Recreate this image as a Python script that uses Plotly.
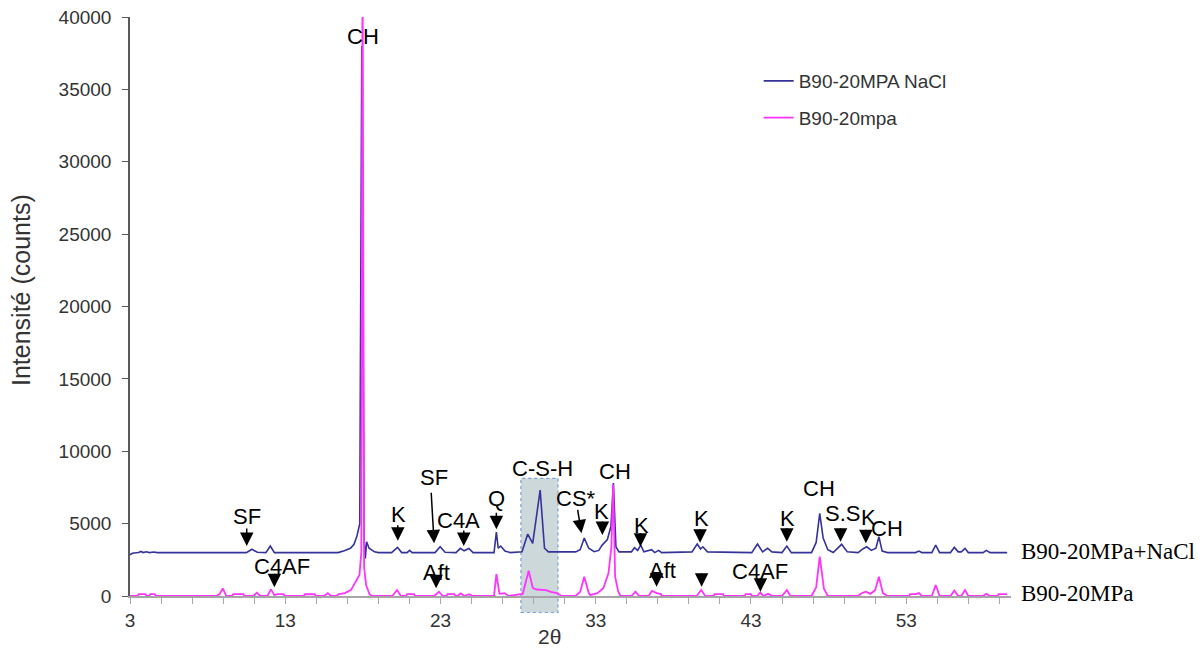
import plotly.graph_objects as go

# B90-20MPa + NaCl (offset pattern, base ~3000 counts)
two_theta_nacl = [
    3.00, 3.15, 3.55, 3.70, 3.85, 4.05, 4.25, 4.55, 4.75,
    10.50, 10.85, 11.20, 11.75, 12.04, 12.30,
    16.40, 16.80, 17.20, 17.43, 17.62, 17.80, 17.93, 18.08, 18.16, 18.24, 18.40, 18.75, 19.00,
    19.85, 20.23, 20.50, 20.85, 21.01, 21.18,
    22.65, 22.98, 23.30,
    24.00, 24.28, 24.52, 24.83, 25.10,
    26.45, 26.60, 26.72, 26.88, 27.15, 27.50,
    28.25, 28.62, 28.94, 29.42, 29.70, 29.95,
    31.70, 32.00, 32.26, 32.55, 32.90, 33.20, 33.40, 33.75, 33.98, 34.14, 34.30, 34.50,
    35.30, 35.50, 35.70, 35.90, 36.10, 36.60, 36.80, 37.05, 37.25,
    39.20, 39.54, 39.75, 39.90, 40.20,
    43.05, 43.42, 43.75, 44.07, 44.35,
    45.00, 45.31, 45.60,
    46.90, 47.20, 47.43, 47.65, 47.95, 48.30, 48.84, 49.20,
    49.90, 50.20, 50.46, 50.75, 51.05, 51.24, 51.45, 51.80,
    53.60, 53.82, 54.00, 54.65, 54.90, 55.15, 55.85, 56.10, 56.35, 56.55, 56.79, 57.00, 57.95, 58.16, 58.40, 59.50,
]
counts_nacl = [
    2850, 2950, 3000, 3080, 3000, 3060, 3000, 3040, 3000,
    3000, 3230, 3020, 3000, 3450, 3000,
    3000, 3130, 3300, 3570, 4150, 5000, 38000, 3900, 2600, 3750, 3300, 3050, 3000,
    3000, 3360, 3000, 3000, 3150, 3000,
    3000, 3400, 3020,
    3000, 3290, 3120, 3280, 3000,
    3000, 4420, 3300, 3450, 3100, 3000,
    3050, 4280, 3640, 7320, 3300, 3050,
    3050, 3200, 4000, 3300, 3060, 3150, 3500, 3900, 4800, 7800, 3400, 3050,
    3050, 3340, 3150, 3520, 3050, 3200, 3000, 3150, 3000,
    3050, 3590, 3250, 3400, 3050,
    3000, 3590, 3050, 3300, 3050,
    3000, 3450, 3000,
    3000, 3700, 5710, 4000, 3200, 3000, 3570, 3050,
    3000, 3250, 3400, 3150, 3300, 4100, 3100, 3000,
    3000, 3100, 3000, 3000, 3520, 3000, 3000, 3360, 3050, 3050, 3290, 3000, 3000, 3150, 3000, 3000,
]

# B90-20MPa (reference pattern, base ~0 counts)
two_theta_ref = [
    3.00, 3.50, 3.55, 4.00, 4.05, 4.25, 4.30, 4.60, 4.65,
    8.60, 8.78, 8.98, 9.20, 9.60, 9.65, 10.30, 10.35,
    10.95, 11.17, 11.40, 11.85, 12.08, 12.30, 12.50, 12.90, 12.95,
    14.20, 14.25, 14.90, 14.95, 15.50, 15.74, 15.95,
    16.30, 16.45, 16.85, 17.24, 17.56, 17.78, 17.90, 17.98, 18.08, 18.21, 18.43, 18.60,
    19.90, 20.20, 20.45, 20.80, 20.85, 21.30, 21.35,
    22.60, 22.90, 23.15, 23.40, 23.45, 23.90, 23.95, 24.10, 24.30, 24.55, 24.83, 25.10,
    26.45, 26.60, 26.80, 27.12, 27.40,
    28.30, 28.68, 28.95, 29.20, 29.80, 30.10, 30.50, 30.80,
    31.70, 32.00, 32.26, 32.55, 32.65, 33.10, 33.49, 33.82, 34.01, 34.12, 34.25, 34.45, 34.60,
    35.30, 35.56, 35.80, 36.40, 36.63, 36.92, 37.20, 37.25,
    39.50, 39.80, 40.05, 40.60, 40.65, 41.20, 41.25,
    42.60, 42.65, 43.00, 43.05, 43.40, 43.60, 43.80, 44.10, 44.40,
    45.00, 45.31, 45.55,
    46.90, 47.20, 47.43, 47.70, 47.95,
    49.90, 50.15, 50.40, 50.70, 51.00, 51.24, 51.50, 51.80,
    53.20, 53.25, 53.60, 53.82, 54.00, 54.65, 54.90, 55.15, 55.85, 56.10,
    56.35, 56.55, 56.79, 57.00, 57.95, 58.16, 58.40, 58.90, 58.95, 59.50,
]
counts_ref = [
    0, 0, 130, 130, 0, 0, 130, 130, 0,
    0, 150, 530, 0, 0, 130, 130, 0,
    0, 230, 0, 0, 460, 60, 130, 130, 0,
    0, 120, 120, 0, 0, 200, 0,
    0, 130, 200, 420, 990, 1450, 3000, 45000, 2000, 760, 120, 0,
    0, 415, 0, 0, 130, 130, 0,
    0, 300, 0, 0, 130, 130, 0, 0, 180, 0, 130, 0,
    0, 1520, 150, 200, 0,
    150, 1750, 550, 450, 400, 280, 200, 0,
    0, 300, 1330, 200, 60, 200, 530, 1570, 3400, 7700, 1330, 300, 0,
    0, 300, 0, 0, 350, 200, 130, 0,
    0, 415, 0, 0, 130, 130, 0,
    0, 130, 130, 0, 0, 250, 0, 150, 0,
    0, 415, 0,
    0, 600, 2720, 500, 0,
    0, 200, 300, 150, 400, 1330, 200, 0,
    0, 130, 130, 200, 0, 0, 760, 0, 0, 370,
    0, 0, 415, 0, 0, 150, 0, 0, 130, 130,
]

x_tick_values = [3, 13, 23, 33, 43, 53]
x_tick_labels = ["3", "13", "23", "33", "43", "53"]
y_tick_values = [0, 5000, 10000, 15000, 20000, 25000, 30000, 35000, 40000]

# phase labels: (text, 2theta, counts)
phase_labels = [
    ("CH", 18.04, 38640),
    ("SF", 10.52, 5480),
    ("C4AF", 12.80, 2025),
    ("K", 20.28, 5600),
    ("SF", 22.59, 8200),
    ("C4A", 24.18, 5250),
    ("Aft", 22.77, 1610),
    ("Q", 26.60, 6750),
    ("C-S-H", 29.59, 8825),
    ("CS*", 31.76, 6750),
    ("K", 33.38, 5825),
    ("CH", 34.26, 8590),
    ("K", 35.92, 4905),
    ("Aft", 37.33, 1730),
    ("K", 39.82, 5370),
    ("C4AF", 43.57, 1680),
    ("K", 45.35, 5370),
    ("CH", 47.36, 7440),
    ("S.S", 48.88, 5715),
    ("K", 50.59, 5390),
    ("CH", 51.76, 4680),
]

# arrow tips: (2theta, counts, tail dx px, tail dy px)
phase_arrows = [
    (10.52, 3455, 0, -19),
    (12.30, 600, 0, -15),
    (20.25, 3820, 0, -17),
    (22.59, 3640, -3, -52),
    (24.50, 3455, 0, -17),
    (22.72, 530, 0, -13),
    (26.60, 4610, 0, -18),
    (32.08, 4330, -4, -25),
    (33.43, 4215, 0, -15),
    (35.88, 3405, 0, -15),
    (36.92, 640, 0, -13),
    (39.82, 640, 0, -15),
    (39.72, 3680, 0, -15),
    (43.61, 300, 0, -15),
    (45.31, 3750, 0, -15),
    (48.77, 3750, 0, -15),
    (50.40, 3640, 0, -15),
]

SANS = "Liberation Sans, Arial, sans-serif"
SERIF = "Liberation Serif, Times New Roman, serif"

fig = go.Figure()

fig.add_trace(
    go.Scatter(
        x=two_theta_nacl,
        y=counts_nacl,
        mode="lines",
        name="B90-20MPA NaCl",
        legendgroup="nacl",
        line=dict(color="#333399", width=1.6),
    )
)
fig.add_trace(
    go.Scatter(
        x=two_theta_ref,
        y=counts_ref,
        mode="lines",
        name="B90-20mpa",
        legendgroup="ref",
        line=dict(color="#ff33ff", width=1.8),
    )
)

# C-S-H zone
fig.add_shape(
    type="rect",
    xref="x",
    yref="paper",
    x0=28.18,
    x1=30.57,
    y0=-0.0285,
    y1=0.2033,
    fillcolor="rgb(205, 216, 219)",
    line=dict(color="#7d9fd6", width=1.2, dash="dot"),
    layer="below",
)

for text, x, y in phase_labels:
    fig.add_annotation(
        x=x, y=y, text=text, showarrow=False,
        font=dict(family=SANS, size=22, color="#000000"),
        xanchor="center", yanchor="middle",
    )

for x, y, dx, dy in phase_arrows:
    fig.add_annotation(
        x=x, y=y, text="", showarrow=True,
        ax=dx, ay=dy,
        arrowhead=2, arrowsize=1.8, arrowwidth=1.5, arrowcolor="#000000",
    )

# series names at the right end
fig.add_annotation(
    xref="paper", yref="paper", x=1.009, y=0.0765, text="B90-20MPa+NaCl",
    showarrow=False, xanchor="left", yanchor="middle",
    font=dict(family=SERIF, size=23, color="#000000"),
)
fig.add_annotation(
    xref="paper", yref="paper", x=1.009, y=0.0047, text="B90-20MPa",
    showarrow=False, xanchor="left", yanchor="middle",
    font=dict(family=SERIF, size=23, color="#000000"),
)

# axis titles
fig.add_annotation(
    xref="paper", yref="paper", x=0.4765, y=-0.0708, text="2θ",
    showarrow=False, xanchor="center", yanchor="middle",
    font=dict(family=SANS, size=21, color="#333333"),
)
fig.add_annotation(
    xref="paper", yref="paper", x=-0.1237, y=0.5285, text="Intensité (counts)",
    showarrow=False, xanchor="center", yanchor="middle", textangle=-90,
    font=dict(family=SANS, size=25, color="#333333"),
)

# the page body keeps an 8px margin, so the figure is drawn 8px smaller
fig.update_layout(
    width=1196,
    height=647,
    paper_bgcolor="#ffffff",
    plot_bgcolor="#ffffff",
    margin={"l": 122, "r": 193, "t": 9, "b": 59},
    font=dict(family=SANS, color="#333333"),
    showlegend=True,
    legend=dict(
        x=0.7136,
        y=0.9223,
        xanchor="left",
        yanchor="top",
        bgcolor="rgba(0,0,0,0)",
        font=dict(family=SANS, size=19, color="#333333"),
        tracegroupgap=9,
    ),
    xaxis=dict(
        range=[3, 59.75],
        tickvals=x_tick_values,
        ticktext=x_tick_labels,
        ticks="outside",
        ticklen=6,
        tickcolor="#a6a6a6",
        tickfont=dict(size=19, color="#333333"),
        showline=True,
        linecolor="#a6a6a6",
        linewidth=2,
        showgrid=False,
        zeroline=False,
        automargin=False,
        minor=dict(ticks="outside", ticklen=6, tickcolor="#a6a6a6", dtick=2, tick0=3, showgrid=False),
    ),
    yaxis=dict(
        range=[0, 40000],
        tickvals=y_tick_values,
        tickformat="d",
        ticks="outside",
        ticklen=6,
        tickcolor="#595959",
        tickfont=dict(size=19, color="#333333"),
        ticklabeloverflow="allow",
        ticklabelstandoff=7,
        automargin=False,
        showline=True,
        linecolor="#595959",
        linewidth=1.5,
        showgrid=False,
        zeroline=False,
    ),
)

fig.write_html("out.html")
